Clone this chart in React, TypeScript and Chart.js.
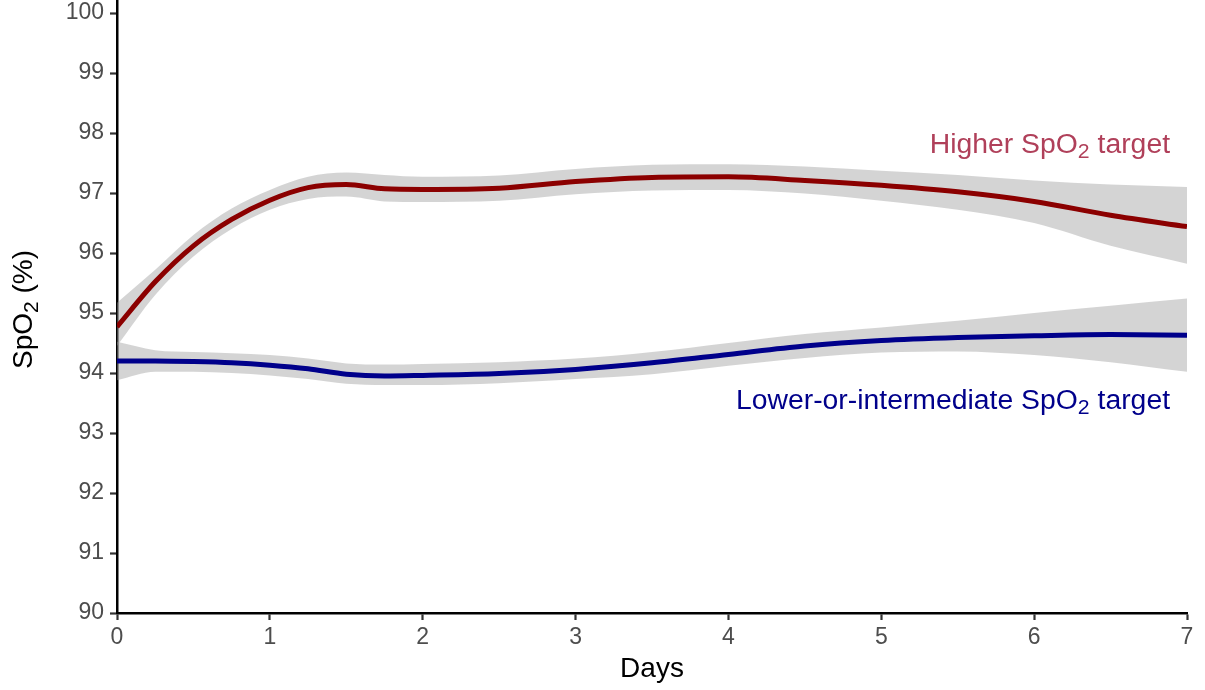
import React, { useEffect, useRef } from "react";
import { Chart, registerables } from "chart.js";

Chart.register(...registerables);

// ---- data ----
const DAYS = [0, 0.25, 0.5, 0.75, 1, 1.25, 1.5, 1.75, 2, 2.5, 3, 3.5, 4, 4.5, 5, 5.5, 6, 6.5, 7];

const HIGHER_MEAN = [94.77, 95.52, 96.12, 96.56, 96.88, 97.09, 97.14, 97.07, 97.06, 97.08, 97.19, 97.26, 97.27, 97.21, 97.13, 97.02, 96.86, 96.63, 96.44];
const HIGHER_UPPER = [95.17, 95.72, 96.3, 96.74, 97.05, 97.27, 97.34, 97.3, 97.27, 97.29, 97.4, 97.47, 97.48, 97.44, 97.37, 97.3, 97.21, 97.14, 97.1];
const HIGHER_LOWER = [94.45, 95.3, 95.94, 96.4, 96.72, 96.9, 96.94, 96.86, 96.85, 96.87, 96.98, 97.04, 97.05, 96.99, 96.87, 96.72, 96.5, 96.12, 95.82];

const LOWER_MEAN = [94.2, 94.2, 94.19, 94.17, 94.13, 94.07, 93.98, 93.95, 93.96, 93.99, 94.06, 94.17, 94.31, 94.45, 94.54, 94.59, 94.62, 94.64, 94.63];
const LOWER_UPPER = [94.52, 94.38, 94.35, 94.33, 94.3, 94.24, 94.16, 94.14, 94.15, 94.18, 94.24, 94.35, 94.5, 94.65, 94.76, 94.87, 95.0, 95.12, 95.24];
const LOWER_LOWER = [93.88, 94.02, 94.02, 94.0, 93.96, 93.9, 93.82, 93.8, 93.8, 93.83, 93.9, 93.98, 94.12, 94.25, 94.34, 94.36, 94.3, 94.18, 94.02];

const X_TICKS = [0, 1, 2, 3, 4, 5, 6, 7];
const Y_TICKS = [90, 91, 92, 93, 94, 95, 96, 97, 98, 99, 100];

const X_TITLE = "Days";

const FONT = "'Liberation Sans', Arial, Helvetica, sans-serif";

type Part = { text: string; sub?: boolean };

function drawRich(
  ctx: CanvasRenderingContext2D,
  parts: Part[],
  x: number,
  y: number,
  align: "left" | "center" | "right",
  size: number,
  color: string,
  hScale = 1
) {
  ctx.save();
  ctx.fillStyle = color;
  ctx.textBaseline = "alphabetic";
  ctx.textAlign = "left";
  const widths = parts.map((p) => {
    ctx.font = `${p.sub ? size * 0.75 : size}px ${FONT}`;
    return ctx.measureText(p.text).width;
  });
  const total = widths.reduce((a, b) => a + b, 0) * hScale;
  let start = x;
  if (align === "right") start = x - total;
  if (align === "center") start = x - total / 2;
  ctx.translate(start, y);
  ctx.scale(hScale, 1);
  let cx = 0;
  parts.forEach((p, i) => {
    ctx.font = `${p.sub ? size * 0.75 : size}px ${FONT}`;
    ctx.fillText(p.text, cx, p.sub ? size * 0.2 : 0);
    cx += widths[i];
  });
  ctx.restore();
}

const textPlugin = {
  id: "textPlugin",
  afterDraw(chart: any) {
    const ctx = chart.ctx as CanvasRenderingContext2D;
    const xs = chart.scales.x;
    const ys = chart.scales.y;
    const area = chart.chartArea;
    // annotations
    drawRich(
      ctx,
      [{ text: "Higher SpO" }, { text: "2", sub: true }, { text: " target" }],
      xs.getPixelForValue(6.889),
      ys.getPixelForValue(97.667),
      "right",
      27,
      "#b0405a",
      1.05
    );
    drawRich(
      ctx,
      [{ text: "Lower-or-intermediate SpO" }, { text: "2", sub: true }, { text: " target" }],
      xs.getPixelForValue(6.889),
      ys.getPixelForValue(93.4),
      "right",
      27,
      "#00008b",
      1.05
    );
    // x title
    drawRich(ctx, [{ text: X_TITLE }], (area.left + area.right) / 2, 677, "center", 28, "#000");
    // y title (rotated)
    ctx.save();
    ctx.translate(32, (area.top + area.bottom) / 2 + 3);
    ctx.rotate(-Math.PI / 2);
    drawRich(ctx, [{ text: "SpO" }, { text: "2", sub: true }, { text: " (%)" }], 0, 0, "center", 28, "#000");
    ctx.restore();
  },
};

export default function App() {
  const ref = useRef<HTMLCanvasElement | null>(null);
  useEffect(() => {
    document.body.style.margin = "0";
    if (!ref.current) return;
    const pts = (ys: number[]) => DAYS.map((d, i) => ({ x: d, y: ys[i] }));
    const band = {
      borderWidth: 0,
      pointRadius: 0,
      backgroundColor: "rgba(153,153,153,0.42)",
      borderColor: "rgba(0,0,0,0)",
      cubicInterpolationMode: "monotone" as const,
      order: 2,
    };
    const line = {
      borderWidth: 5,
      pointRadius: 0,
      fill: false,
      cubicInterpolationMode: "monotone" as const,
      order: 1,
    };
    const chart = new Chart(ref.current, {
      type: "line",
      data: {
        datasets: [
          { ...band, label: "hu", data: pts(HIGHER_UPPER), fill: "+1" },
          { ...band, label: "hl", data: pts(HIGHER_LOWER), fill: false },
          { ...band, label: "lu", data: pts(LOWER_UPPER), fill: "+1" },
          { ...band, label: "ll", data: pts(LOWER_LOWER), fill: false },
          { ...line, label: "Higher SpO2 target", data: pts(HIGHER_MEAN), borderColor: "#8b0000" },
          { ...line, label: "Lower-or-intermediate SpO2 target", data: pts(LOWER_MEAN), borderColor: "#00008b" },
        ] as any,
      },
      options: {
        animation: false,
        responsive: false,
        maintainAspectRatio: false,
        layout: { padding: { left: 0, right: 18, top: 0, bottom: 0 } },
        plugins: {
          legend: { display: false },
          tooltip: { enabled: false },
          filler: { drawTime: "beforeDatasetsDraw" },
        } as any,
        scales: {
          x: {
            type: "linear",
            min: 0,
            max: 7,
            afterBuildTicks: (s: any) => {
              s.ticks = X_TICKS.map((v) => ({ value: v }));
            },
            afterFit: (s: any) => {
              s.height = 77;
              s.paddingLeft = 0;
              s.paddingRight = 0;
            },
            ticks: {
              color: "#4d4d4d",
              font: { size: 23, family: FONT },
              padding: 4,
              maxRotation: 0,
              autoSkip: false,
            },
            grid: {
              drawOnChartArea: false,
              drawTicks: true,
              tickLength: 7,
              tickColor: "#333333",
              tickWidth: 2.2,
            },
            border: { display: true, color: "#000000", width: 2.5 },
          },
          y: {
            type: "linear",
            min: 90,
            max: 100.217,
            afterBuildTicks: (s: any) => {
              s.ticks = Y_TICKS.map((v) => ({ value: v }));
            },
            afterFit: (s: any) => {
              s.width = 117;
              s.paddingTop = 0;
              s.paddingBottom = 0;
            },
            ticks: {
              color: "#4d4d4d",
              font: { size: 23, family: FONT },
              padding: 6,
              autoSkip: false,
            },
            grid: {
              drawOnChartArea: false,
              drawTicks: true,
              tickLength: 7,
              tickColor: "#333333",
              tickWidth: 2.2,
            },
            border: { display: true, color: "#000000", width: 2.5 },
          },
        },
      },
      plugins: [textPlugin],
    });
    return () => chart.destroy();
  }, []);
  return (
    <div style={{ width: 1205, height: 690, background: "#fff" }}>
      <canvas ref={ref} width={1205} height={690} style={{ display: "block" }} />
    </div>
  );
}
